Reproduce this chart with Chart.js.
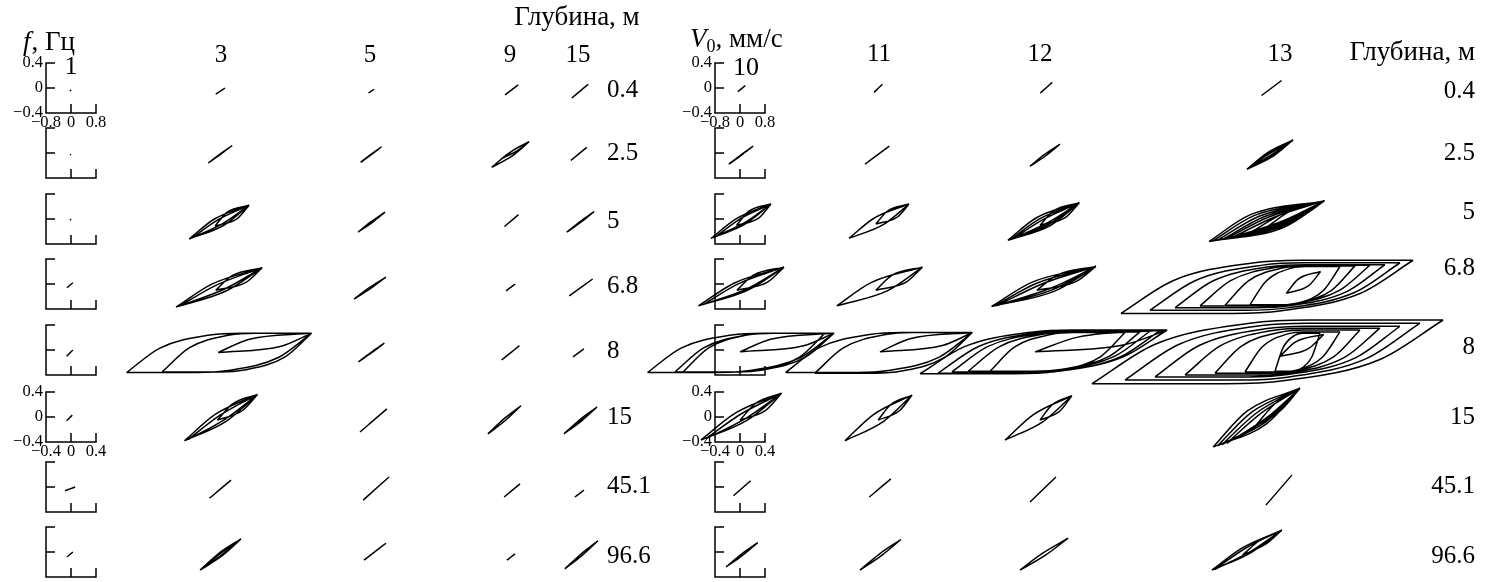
<!DOCTYPE html>
<html>
<head>
<meta charset="utf-8">
<script src="https://cdn.jsdelivr.net/npm/chart.js@4.4.1/dist/chart.umd.min.js"></script>
<style>
html, body { margin: 0; padding: 0; background: #fff; }
canvas { display: block; }
</style>
</head>
<body>
<canvas id="loops" width="1502" height="582"></canvas>
<script>
// row / column labels
const depths = ["0.4", "2.5", "5", "6.8", "8", "15", "45.1", "96.6"];
const leftCols = ["1", "3", "5", "9", "15"];
const rightCols = ["10", "11", "12", "13"];
const boxYTicks = ["0.4", "0", "\u22120.4"];
const boxXTicksTop = ["\u22120.8", "0", "0.8"];
const boxXTicksMid = ["\u22120.4", "0", "0.4"];

// loops per column, one list per depth row
// [x left tip, y left tip, x right tip, y right tip, opening, flat]
const loops1 = [
  [[-0.03, -0.05, 0.00, -0.03, 0]],
  [[-0.03, -0.03, 0.00, -0.02, 0]],
  [[-0.03, -0.02, 0.00, 0.00, 0]],
  [[-0.13, -0.06, 0.06, 0.02, 0]],
  [[-0.14, -0.10, 0.06, 0.00, 0]],
  [[-0.14, -0.06, 0.04, 0.03, 0]],
  [[-0.19, -0.06, 0.13, 0.00, 0]],
  [[-0.13, -0.08, 0.06, 0.00, 0]]
];
const loops3 = [
  [[-0.17, -0.10, 0.13, 0.00, 0]],
  [[-0.41, -0.16, 0.36, 0.12, 0.02]],
  [[-1.02, -0.32, 0.90, 0.22, 0.17], [-0.92, -0.30, 0.90, 0.22, 0.1], [-0.19, -0.11, 0.90, 0.22, 0.3]],
  [[-1.44, -0.37, 1.32, 0.26, 0.17], [-1.32, -0.35, 1.32, 0.26, 0.1], [-0.17, -0.10, 1.32, 0.26, 0.3]],
  [[-3.02, -0.36, 2.90, 0.27, 0, 1], [-1.88, -0.35, 2.90, 0.27, 0, 1], [-0.09, -0.04, 2.90, 0.27, 0.35]],
  [[-1.17, -0.38, 1.17, 0.36, 0.15], [-1.05, -0.36, 1.17, 0.36, 0.08], [-0.12, -0.05, 1.17, 0.36, 0.25]],
  [[-0.37, -0.18, 0.32, 0.11, 0]],
  [[-0.67, -0.29, 0.64, 0.21, 0.08], [-0.67, -0.29, 0.64, 0.21, 0.04]]
];
const loops5 = [
  [[-0.05, -0.08, 0.13, -0.02, 0]],
  [[-0.30, -0.15, 0.37, 0.10, 0.02]],
  [[-0.38, -0.21, 0.48, 0.11, 0.04]],
  [[-0.51, -0.24, 0.51, 0.11, 0.04]],
  [[-0.37, -0.19, 0.46, 0.11, 0.02]],
  [[-0.32, -0.24, 0.54, 0.13, 0]],
  [[-0.22, -0.21, 0.61, 0.16, 0]],
  [[-0.19, -0.13, 0.51, 0.14, 0]]
];
const loops9 = [
  [[-0.19, -0.11, 0.23, 0.05, 0]],
  [[-0.62, -0.23, 0.58, 0.18, 0.1], [-0.25, -0.08, 0.58, 0.18, 0.1]],
  [[-0.21, -0.12, 0.24, 0.07, 0]],
  [[-0.16, -0.11, 0.14, 0.00, 0]],
  [[-0.30, -0.16, 0.27, 0.07, 0]],
  [[-0.74, -0.27, 0.32, 0.18, 0.05]],
  [[-0.22, -0.16, 0.29, 0.05, 0]],
  [[-0.13, -0.13, 0.13, -0.03, 0]]
];
const loops15 = [
  [[-0.20, -0.16, 0.33, 0.06, 0]],
  [[-0.23, -0.12, 0.28, 0.09, 0]],
  [[-0.36, -0.21, 0.52, 0.12, 0.03]],
  [[-0.28, -0.19, 0.47, 0.08, 0]],
  [[-0.16, -0.11, 0.19, 0.02, 0]],
  [[-0.45, -0.27, 0.61, 0.16, 0.05], [-0.45, -0.27, 0.61, 0.16, 0.02]],
  [[-0.10, -0.16, 0.19, -0.05, 0]],
  [[-0.42, -0.27, 0.64, 0.18, 0.04]]
];
const loops10 = [
  [[-0.07, -0.06, 0.17, 0.04, 0]],
  [[-0.36, -0.18, 0.42, 0.11, 0.02]],
  [[-0.93, -0.31, 0.99, 0.24, 0.15], [-0.75, -0.27, 0.99, 0.24, 0.1], [-0.11, -0.10, 0.99, 0.24, 0.3]],
  [[-1.33, -0.35, 1.41, 0.27, 0.17], [-1.18, -0.33, 1.41, 0.27, 0.12], [-0.10, -0.10, 1.41, 0.27, 0.3]],
  [[-2.96, -0.36, 3.01, 0.27, 0, 1], [-2.08, -0.35, 3.01, 0.27, 0, 1], [-1.82, -0.35, 2.72, 0.27, 0, 1], [0.00, -0.03, 3.01, 0.27, 0.35]],
  [[-1.25, -0.37, 1.33, 0.38, 0.15], [-1.10, -0.35, 1.33, 0.38, 0.08], [0.00, -0.05, 1.33, 0.38, 0.25]],
  [[-0.21, -0.14, 0.34, 0.10, 0]],
  [[-0.45, -0.24, 0.57, 0.15, 0.04]]
];
const loops11 = [
  [[-0.16, -0.07, 0.11, 0.06, 0]],
  [[-0.45, -0.18, 0.33, 0.11, 0]],
  [[-0.96, -0.31, 0.96, 0.24, 0.17], [-0.10, -0.08, 0.96, 0.24, 0.3]],
  [[-1.35, -0.35, 1.39, 0.27, 0.2], [-0.10, -0.10, 1.39, 0.27, 0.3]],
  [[-2.99, -0.36, 2.99, 0.28, 0, 1], [-2.05, -0.37, 2.99, 0.28, 0, 1], [0.03, -0.03, 2.99, 0.28, 0.35]],
  [[-1.09, -0.38, 1.06, 0.35, 0.15], [-0.03, -0.05, 1.06, 0.35, 0.25]],
  [[-0.31, -0.16, 0.38, 0.13, 0]],
  [[-0.61, -0.29, 0.70, 0.20, 0.05]]
];
const loops12 = [
  [[0.01, -0.08, 0.39, 0.09, 0]],
  [[-0.32, -0.21, 0.64, 0.14, 0.05]],
  [[-1.03, -0.34, 1.26, 0.26, 0.2], [-0.95, -0.33, 1.26, 0.26, 0.14], [-0.85, -0.31, 1.26, 0.26, 0.08], [0.00, -0.10, 1.26, 0.26, 0.3]],
  [[-1.55, -0.36, 1.79, 0.28, 0.22], [-1.45, -0.35, 1.79, 0.28, 0.16], [-1.35, -0.34, 1.79, 0.28, 0.1], [-0.10, -0.10, 1.79, 0.28, 0.3]],
  [[-3.84, -0.38, 4.07, 0.32, 0, 1], [-3.26, -0.37, 3.84, 0.31, 0, 1], [-2.82, -0.35, 3.52, 0.30, 0, 1],
   [-2.30, -0.34, 3.20, 0.29, 0, 1], [-1.60, -0.34, 2.72, 0.28, 0, 1], [-0.16, -0.03, 4.07, 0.32, 0.35]],
  [[-1.12, -0.37, 1.02, 0.34, 0.15], [0.00, -0.05, 1.02, 0.34, 0.25]],
  [[-0.32, -0.24, 0.51, 0.16, 0]],
  [[-0.64, -0.29, 0.90, 0.22, 0.06]]
];
const loops13 = [
  [[-0.59, -0.12, 0.05, 0.12, 0]],
  [[-1.06, -0.26, 0.42, 0.21, 0.12], [-1.06, -0.26, 0.42, 0.21, 0.08], [-1.06, -0.26, 0.42, 0.21, 0.04]],
  [[-2.27, -0.36, 1.42, 0.29, 0.3], [-2.15, -0.35, 1.42, 0.29, 0.26], [-2.00, -0.34, 1.42, 0.29, 0.22],
   [-1.85, -0.33, 1.42, 0.29, 0.18], [-1.70, -0.31, 1.42, 0.29, 0.14], [-1.50, -0.29, 1.42, 0.29, 0.1],
   [-0.90, -0.20, 1.42, 0.29, 0.15], [-0.40, -0.12, 1.42, 0.29, 0.2]],
  [[-5.09, -0.47, 4.26, 0.38, 0, 1], [-4.16, -0.42, 3.84, 0.34, 0, 1], [-3.36, -0.38, 3.36, 0.31, 0, 1],
   [-2.56, -0.35, 2.88, 0.30, 0, 1], [-1.76, -0.34, 2.40, 0.29, 0, 1], [-0.96, -0.33, 1.92, 0.28, 0, 1],
   [0.20, -0.15, 1.30, 0.20, 0.3]],
  [[-6.02, -0.54, 5.22, 0.48, 0, 1], [-4.96, -0.48, 4.48, 0.43, 0, 1], [-4.00, -0.43, 3.84, 0.38, 0, 1],
   [-3.04, -0.40, 3.20, 0.35, 0, 1], [-2.08, -0.37, 2.56, 0.32, 0, 1], [-1.12, -0.35, 1.92, 0.29, 0, 1],
   [-0.16, -0.34, 1.28, 0.27, 0, 1], [0.00, -0.10, 1.40, 0.25, 0.3]],
  [[-2.14, -0.48, 0.64, 0.46, 0.22], [-2.00, -0.46, 0.64, 0.46, 0.17], [-1.85, -0.44, 0.64, 0.46, 0.12],
   [-1.70, -0.42, 0.64, 0.46, 0.08], [-0.80, -0.15, 0.64, 0.46, 0.15]],
  [[-0.45, -0.29, 0.38, 0.19, 0]],
  [[-2.18, -0.29, 0.06, 0.35, 0.12], [-2.10, -0.28, 0.06, 0.35, 0.08], [-1.20, -0.05, 0.06, 0.35, 0.15]]
];

// layout: panel centres on the page (pixels) and size of one panel unit
const UX = 31.25, UY = 62.5;
const colX = [71, 221, 370, 511, 578, 740, 879, 1040, 1280];
const rowY = [88, 153, 219, 284, 350, 417, 487, 552];
const columns = [loops1, loops3, loops5, loops9, loops15, loops10, loops11, loops12, loops13];

// branch shapes in tip-to-tip coordinates
const FLAT_UP = [[0, 0], [0.18, 0.62], [0.45, 0.95], [0.62, 1], [1, 1]];
const FLAT_DN = [[0, 0], [0.38, 0], [0.55, 0.05], [0.82, 0.38], [1, 1]];

function branches(loop) {
  const w = loop[4];
  if (loop[5]) return [FLAT_UP, FLAT_DN];
  const a = 0.5 - w / 2, b = 0.5 + w / 2;
  return [[[0, 0], [a, b], [1, 1]], [[0, 0], [b, a], [1, 1]]];
}

function columnPoints(cells, c) {
  const pts = [];
  cells.forEach((loops, r) => {
    const ox = colX[c] / UX, oy = -rowY[r] / UY;
    loops.forEach(loop => {
      const [xl, yl, xr, yr] = loop;
      branches(loop).forEach(br => {
        br.forEach(([s, t]) => pts.push({ x: ox + xl + s * (xr - xl), y: oy + yl + t * (yr - yl) }));
        pts.push({ x: null, y: null });
      });
    });
  });
  return pts;
}

const datasets = columns.map((cells, c) => ({
  data: columnPoints(cells, c),
  showLine: true,
  spanGaps: false,
  pointRadius: 0,
  borderColor: "#000",
  borderWidth: 1.5,
  cubicInterpolationMode: "monotone",
  fill: false
}));

const SERIF = "'Liberation Serif', 'DejaVu Serif', serif";

function text(ctx, s, x, y, align, size, style, base) {
  ctx.font = (style || "") + " " + size + "px " + SERIF;
  ctx.textAlign = align;
  ctx.textBaseline = base || "middle";
  ctx.fillText(s, x, y);
  return ctx.measureText(s).width;
}

const decor = {
  id: "decor",
  afterDatasetsDraw(chart) {
    const ctx = chart.ctx, sx = chart.scales.x, sy = chart.scales.y;
    const px = v => sx.getPixelForValue(v), py = v => sy.getPixelForValue(v);
    ctx.save();
    ctx.strokeStyle = "#000";
    ctx.fillStyle = "#000";
    ctx.lineWidth = 1.5;

    // small axis frames in the first column of each group
    rowY.forEach((ry, r) => {
      [colX[0], colX[5]].forEach(cx => {
        const ox = cx / UX, oy = -ry / UY;
        const L = px(ox - 0.8), R = px(ox + 0.8), Z = px(ox);
        const T = py(oy + 0.4), M = py(oy), B = py(oy - 0.4);
        ctx.beginPath();
        ctx.moveTo(L + 9, T); ctx.lineTo(L, T); ctx.lineTo(L, B); ctx.lineTo(R, B); ctx.lineTo(R, B - 9);
        ctx.moveTo(L, M); ctx.lineTo(L + 9, M);
        ctx.moveTo(Z, B); ctx.lineTo(Z, B - 9);
        ctx.stroke();
        if (r === 0 || r === 5) {
          [T, M, B].forEach((y, i) => text(ctx, boxYTicks[i], L - 3, y, "right", 16.5));
          const xt = r === 0 ? boxXTicksTop : boxXTicksMid;
          [L, Z, R].forEach((x, i) => text(ctx, xt[i], x, B + 10, "center", 16.5));
        }
      });
    });

    // titles
    text(ctx, "Глубина, м", 577, 25, "center", 27, "", "alphabetic");
    text(ctx, "Глубина, м", 1475, 60, "right", 27, "", "alphabetic");
    let w = text(ctx, "f", 23, 50, "left", 27, "italic", "alphabetic");
    text(ctx, ", Гц", 23 + w + 1, 50, "left", 27, "", "alphabetic");
    w = text(ctx, "V", 690, 47, "left", 27, "italic", "alphabetic");
    const w0 = text(ctx, "0", 690 + w, 52, "left", 18, "", "alphabetic");
    text(ctx, ", мм/с", 690 + w + w0, 47, "left", 27, "", "alphabetic");

    // column numbers
    text(ctx, leftCols[0], 71, 67, "center", 26);
    [221, 370, 510, 578].forEach((x, i) => text(ctx, leftCols[i + 1], x, 55, "center", 25));
    text(ctx, rightCols[0], 746, 68, "center", 26);
    [879, 1040, 1280].forEach((x, i) => text(ctx, rightCols[i + 1], x, 54, "center", 25));

    // depth labels
    const leftY = [90, 153, 221, 286, 351, 417, 486, 556];
    const rightY = [91, 153, 212, 268, 347, 417, 486, 556];
    depths.forEach((d, i) => {
      text(ctx, d, 607, leftY[i], "left", 25);
      text(ctx, d, 1475, rightY[i], "right", 25);
    });
    ctx.restore();
  }
};

new Chart(document.getElementById("loops"), {
  type: "scatter",
  data: { datasets: datasets },
  options: {
    responsive: false,
    animation: false,
    events: [],
    layout: { padding: 0 },
    plugins: { legend: { display: false }, tooltip: { enabled: false } },
    scales: {
      x: { type: "linear", display: false, min: 0, max: 1502 / UX },
      y: { type: "linear", display: false, min: -582 / UY, max: 0 }
    }
  },
  plugins: [decor]
});
</script>
</body>
</html>
